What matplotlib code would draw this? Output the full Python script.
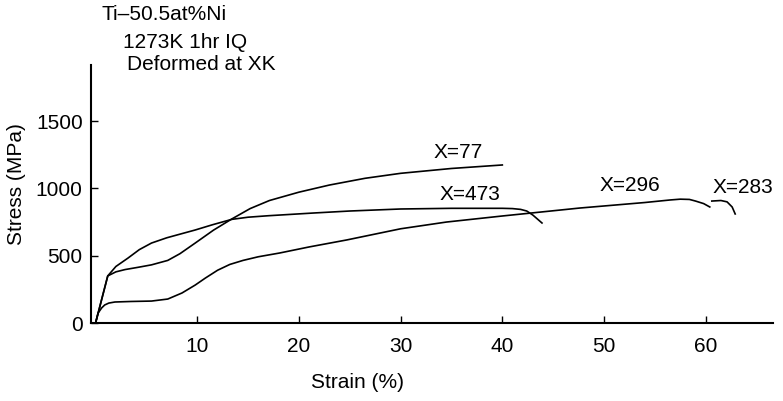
import numpy as np
import matplotlib.pyplot as plt

plt.rcParams['font.family'] = ['Liberation Sans', 'DejaVu Sans']

# curves: strain (%) and stress (MPa)
strain_77 = [0, 1.2, 2.0, 2.9, 4.2, 5.5, 7.1, 8.3, 9.8, 11.6, 13.4, 15.2, 17.1, 20, 23, 26.5, 30, 35, 40]
stress_77 = [0, 350, 380, 397, 414, 432, 465, 515, 594, 690, 773, 850, 910, 972, 1025, 1075, 1112, 1148, 1174]

strain_473 = [0, 1.2, 2.0, 3.2, 4.3, 5.5, 7.0, 8.3, 9.8, 11.5, 13.4, 15, 17, 21.4, 25, 30, 35, 40, 41, 41.8, 42.4, 43, 43.9]
stress_473 = [0, 350, 420, 483, 545, 594, 633, 660, 691, 730, 770, 786, 797, 817, 832, 847, 852, 852, 850, 844, 832, 802, 743]

strain_296 = [0, 0.25, 0.6, 0.9, 1.3, 1.9, 3.5, 5.5, 7.1, 8.5, 9.8, 10.8, 12.0, 13.2, 14.5, 16.0, 18.1, 21, 24.7, 30,
              34.5, 40, 47.6, 54, 56.5, 57.5, 58.4, 59, 59.8, 60.4]
stress_296 = [0, 74, 112, 134, 148, 156, 160, 163, 178, 223, 282, 334, 392, 435, 465, 492, 520, 565, 617, 700,
              750, 795, 854, 895, 914, 920, 918, 906, 887, 862]

strain_283 = [60.6, 61.5, 62.1, 62.6, 62.9]
stress_283 = [906, 910, 900, 862, 810]

etiquetas = ['X=77', 'X=473', 'X=296', 'X=283']
etiq_x = [35.7, 36.8, 52.5, 63.7]
etiq_y = [1263, 951, 1025, 1010]

fig = plt.figure(figsize=(7.83, 4.01), dpi=100)
ax = fig.add_axes([0.1162, 0.1945, 0.8708, 0.6435])

for s, t in [(strain_77, stress_77), (strain_473, stress_473),
             (strain_296, stress_296), (strain_283, stress_283)]:
    ax.plot(s, t, color='black', lw=1.2)

for nome, x, y in zip(etiquetas, etiq_x, etiq_y):
    ax.text(x, y, nome, fontsize=15, ha='center', va='center')

ax.set_xlim(-0.45, 66.6)
ax.set_ylim(0, 1917)
ax.set_xticks([10, 20, 30, 40, 50, 60])
ax.set_yticks([0, 500, 1000, 1500])
ax.tick_params(direction='in', labelsize=15, length=5, width=1)
ax.tick_params(axis='x', pad=10)
ax.tick_params(axis='y', pad=6)
ax.spines['top'].set_visible(False)
ax.spines['right'].set_visible(False)
ax.spines['left'].set_linewidth(1.5)
ax.spines['bottom'].set_linewidth(1.5)

fig.text(0.0215, 0.541, 'Stress (MPa)', fontsize=15, rotation=90, ha='center', va='center')
fig.text(0.457, 0.045, 'Strain (%)', fontsize=15, ha='center', va='center')

fig.text(0.130, 0.963, 'Ti–50.5at%Ni', fontsize=15, ha='left', va='center')
fig.text(0.157, 0.893, '1273K 1hr IQ', fontsize=15, ha='left', va='center')
fig.text(0.162, 0.838, 'Deformed at XK', fontsize=15, ha='left', va='center')

plt.savefig('out.png', dpi=100)
